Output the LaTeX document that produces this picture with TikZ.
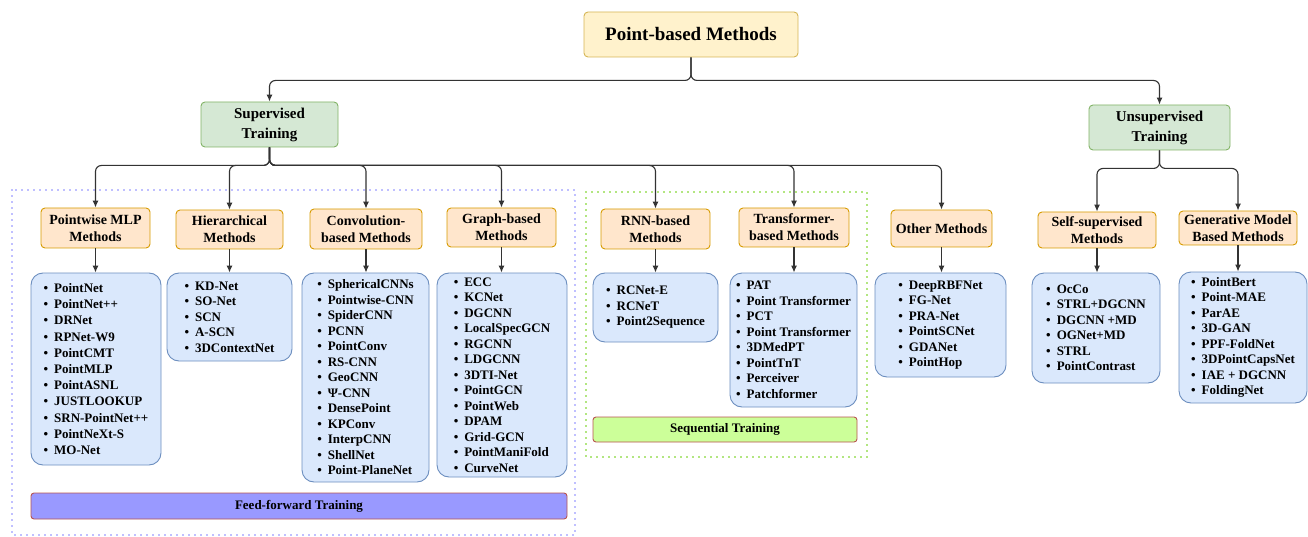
\documentclass[tikz,border=0pt]{standalone}
\usepackage{fontspec}
\setmainfont{Liberation Serif}
\usetikzlibrary{arrows.meta}
\definecolor{rootfill}{HTML}{FFF2CC}
\definecolor{rootline}{HTML}{D6B656}
\definecolor{trainfill}{HTML}{D5E8D4}
\definecolor{trainline}{HTML}{82B366}
\definecolor{methfill}{HTML}{FFE6CC}
\definecolor{methline}{HTML}{D79B00}
\definecolor{listfill}{HTML}{DAE8FC}
\definecolor{listline}{HTML}{6C8EBF}
\definecolor{fffill}{HTML}{9999FF}
\definecolor{seqfill}{HTML}{CCFF99}
\definecolor{barline}{HTML}{B85450}
\definecolor{ffdots}{HTML}{7F7FFF}
\definecolor{seqdots}{HTML}{66CC00}
\newcommand{\itm}{\textbullet\hspace{6pt}}
\tikzset{
    conn/.style={draw=black!80, line width=1.1pt, rounded corners=6pt, -{Latex[length=7pt,width=6pt]}},
    headbox/.style={rounded corners=4pt, line width=0.9pt, inner sep=0pt, align=center, font=\bfseries\fontsize{14}{17}\selectfont},
    rootbox/.style={headbox, draw=rootline, fill=rootfill, font=\bfseries\fontsize{19}{23}\selectfont},
    trainbox/.style={headbox, draw=trainline, fill=trainfill, font=\bfseries\fontsize{15}{20}\selectfont},
    methbox/.style={headbox, draw=methline, fill=methfill},
    listbox/.style={rounded corners=12pt, draw=listline, fill=listfill, line width=0.9pt, inner sep=0pt, align=left, font=\bfseries\fontsize{13}{15.5}\selectfont},
    barbox/.style={rounded corners=3pt, draw=barline, line width=0.9pt, inner sep=0pt, font=\bfseries\fontsize{13}{15}\selectfont},
    dotframe/.style={line width=1.6pt, dash pattern=on 0pt off 6pt, line cap=round},
  }
\begin{document}
\begin{tikzpicture}[x=1pt,y=-1pt]
                  %cadre
                  \useasboundingbox (0,0) rectangle (1308,537);
                  \draw [dotframe, draw=ffdots] (12,190) rectangle (575,535);
                  \draw [dotframe, draw=seqdots] (586,192) rectangle (867,457);
                  %niveaux 1 et 2
                  \node[rootbox, minimum width=214pt, minimum height=45pt] (root) at (691,34.5) {Point-based Methods};
                  \node[trainbox, minimum width=137pt, minimum height=45pt] (sup) at (269.5,124.5) {Supervised\\Training};
                  \node[trainbox, minimum width=141pt, minimum height=45pt] (unsup) at (1159.5,127.5) {Unsupervised\\Training};
                  %niveau 3
                  \node[methbox, minimum width=109pt, minimum height=40pt] (pmlp) at (95.5,228) {Pointwise MLP\\Methods};
                  \node[methbox, minimum width=107pt, minimum height=39pt] (hier) at (229.5,229.5) {Hierarchical\\Methods};
                  \node[methbox, minimum width=112pt, minimum height=40pt] (conv) at (366,229) {Convolution-\\based Methods};
                  \node[methbox, minimum width=109pt, minimum height=39pt] (graph) at (501.5,227.5) {Graph-based\\Methods};
                  \node[methbox, minimum width=109pt, minimum height=40pt] (rnn) at (655.5,229) {RNN-based\\Methods};
                  \node[methbox, minimum width=110pt, minimum height=39pt] (trans) at (794,227.5) {Transformer-\\based Methods};
                  \node[methbox, minimum width=101pt, minimum height=37pt] (other) at (941.5,228.5) {Other Methods};
                  \node[methbox, minimum width=118pt, minimum height=36pt] (self) at (1097,230) {Self-supervised\\Methods};
                  \node[methbox, minimum width=118pt, minimum height=34pt] (gen) at (1238,228) {Generative Model\\Based Methods};
                  %listes
                  \node[listbox, minimum width=130pt, minimum height=192pt, font=\bfseries\fontsize{13}{16.2}\selectfont] (lpm) at (96,369) {\itm PointNet\\\itm PointNet++\\\itm DRNet\\\itm RPNet-W9\\\itm PointCMT\\\itm PointMLP\\\itm PointASNL\\\itm JUSTLOOKUP\\\itm SRN-PointNet++\\\itm PointNeXt-S\\\itm MO-Net};
                  \node[listbox, minimum width=125pt, minimum height=88pt] (lhi) at (229.5,317) {\itm KD-Net\\\itm SO-Net\\\itm SCN\\\itm A-SCN\\\itm 3DContextNet};
                  \node[listbox, minimum width=127pt, minimum height=209pt] (lco) at (365.5,377.5) {\itm SphericalCNNs\\\itm Pointwise-CNN\\\itm SpiderCNN\\\itm PCNN\\\itm PointConv\\\itm RS-CNN\\\itm GeoCNN\\\itm Ψ-CNN\\\itm DensePoint\\\itm KPConv\\\itm InterpCNN\\\itm ShellNet\\\itm Point-PlaneNet};
                  \node[listbox, minimum width=130pt, minimum height=204pt] (lgr) at (502,375) {\itm ECC\\\itm KCNet\\\itm DGCNN\\\itm LocalSpecGCN\\\itm RGCNN\\\itm LDGCNN\\\itm 3DTI-Net\\\itm PointGCN\\\itm PointWeb\\\itm DPAM\\\itm Grid-GCN\\\itm PointManiFold\\\itm CurveNet};
                  \node[listbox, minimum width=125pt, minimum height=69pt] (lrn) at (655.5,307.5) {\itm RCNet-E\\\itm RCNeT\\\itm Point2Sequence};
                  \node[listbox, minimum width=127pt, minimum height=134pt] (ltr) at (793.5,340) {\itm PAT\\\itm Point Transformer\\\itm PCT\\\itm Point Transformer\\\itm 3DMedPT\\\itm PointTnT\\\itm Perceiver\\\itm Patchformer};
                  \node[listbox, minimum width=131pt, minimum height=104pt] (lot) at (940.5,325) {\itm DeepRBFNet\\\itm FG-Net\\\itm PRA-Net\\\itm PointSCNet\\\itm GDANet\\\itm PointHop};
                  \node[listbox, minimum width=128pt, minimum height=110pt] (lse) at (1096,328) {\itm OcCo\\\itm STRL+DGCNN\\\itm DGCNN +MD\\\itm OGNet+MD\\\itm STRL\\\itm PointContrast};
                  \node[listbox, minimum width=128pt, minimum height=131pt] (lge) at (1243,337.5) {\itm PointBert\\\itm Point-MAE\\\itm ParAE\\\itm 3D-GAN\\\itm PPF-FoldNet\\\itm 3DPointCapsNet\\\itm IAE + DGCNN\\\itm FoldingNet};
                  %bandes
                  \node[barbox, fill=fffill, minimum width=536pt, minimum height=26pt] (ff) at (299,506) {Feed-forward Training};
                  \node[barbox, fill=seqfill, minimum width=264pt, minimum height=25pt] (seq) at (725,429.5) {Sequential Training};
                  %fleches
                  \draw [conn] (root.south) -- ++(0,23) -| (sup.north);
                  \draw [conn] (root.south) -- ++(0,23) -| (unsup.north);
                  \draw [conn] (sup.south) -- ++(0,18) -| (pmlp.north);
                  \draw [conn] (sup.south) -- ++(0,18) -| (hier.north);
                  \draw [conn] (sup.south) -- ++(0,18) -| (conv.north);
                  \draw [conn] (sup.south) -- ++(0,18) -| (graph.north);
                  \draw [conn] (sup.south) -- ++(0,18) -| (rnn.north);
                  \draw [conn] (sup.south) -- ++(0,18) -| (trans.north);
                  \draw [conn] (sup.south) -- ++(0,18) -| (other.north);
                  \draw [conn] (unsup.south) -- ++(0,18) -| (self.north);
                  \draw [conn] (unsup.south) -- ++(0,18) -| (gen.north);
                  \draw [conn] (pmlp.south) -- (pmlp.south |- lpm.north);
                  \draw [conn] (hier.south) -- (hier.south |- lhi.north);
                  \draw [conn] (conv.south) -- (conv.south |- lco.north);
                  \draw [conn] (graph.south) -- (graph.south |- lgr.north);
                  \draw [conn] (rnn.south) -- (rnn.south |- lrn.north);
                  \draw [conn] (trans.south) -- (trans.south |- ltr.north);
                  \draw [conn] (other.south) -- (other.south |- lot.north);
                  \draw [conn] (self.south) -- (self.south |- lse.north);
                  \draw [conn] (gen.south) -- (gen.south |- lge.north);
\end{tikzpicture}
\end{document}
